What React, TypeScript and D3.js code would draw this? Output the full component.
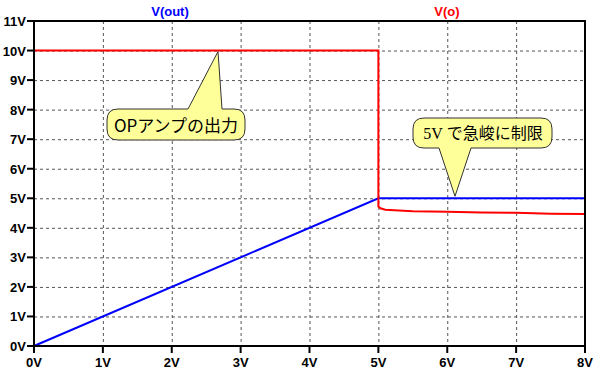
import * as d3 from "d3";

const width = 598;
const height = 371;

const xTicks = [0, 1, 2, 3, 4, 5, 6, 7, 8];
const yTicks = [0, 1, 2, 3, 4, 5, 6, 7, 8, 9, 10, 11];

// V(out): blue
const outX = [0, 5, 8];
const outY = [0, 5, 5];

// V(o): red
const oX = [0, 5, 5, 5.03, 5.1, 5.5, 6, 6.5, 7, 7.5, 8];
const oY = [10, 10, 4.72, 4.66, 4.61, 4.56, 4.54, 4.52, 4.51, 4.48, 4.47];

const seriesNames = ["V(out)", "V(o)"];
const seriesColors = ["#0000ff", "#ff0000"];

const note1 = "OPアンプの出力";
const note2Num = "5V";
const note2Text = "で急峻に制限";

const x = d3.scaleLinear([0, 8], [34, 585]);
const y = d3.scaleLinear([0, 11], [346, 21]);

function calloutPath(
  x0: number, y0: number, x1: number, y1: number, r: number,
  side: "top" | "bottom", b1: number, b2: number, tx: number, ty: number,
) {
  const p = d3.path();
  p.moveTo(x0 + r, y0);
  if (side === "top") {
    p.lineTo(b1, y0);
    p.lineTo(tx, ty);
    p.lineTo(b2, y0);
  }
  p.lineTo(x1 - r, y0);
  p.quadraticCurveTo(x1, y0, x1, y0 + r);
  p.lineTo(x1, y1 - r);
  p.quadraticCurveTo(x1, y1, x1 - r, y1);
  if (side === "bottom") {
    p.lineTo(b2, y1);
    p.lineTo(tx, ty);
    p.lineTo(b1, y1);
  }
  p.lineTo(x0 + r, y1);
  p.quadraticCurveTo(x0, y1, x0, y1 - r);
  p.lineTo(x0, y0 + r);
  p.quadraticCurveTo(x0, y0, x0 + r, y0);
  p.closePath();
  return p.toString();
}

export default function App() {
  const mk = (xs: number[], ys: number[]) =>
    d3
      .line<number>()
      .x((d) => x(d))
      .y((_, i) => y(ys[i]))(xs) as string;

  const font = "'Liberation Sans', Arial, sans-serif";
  const jp = "'Noto Sans CJK JP', sans-serif";

  return (
    <svg
      width={width}
      height={height}
      style={{ position: "absolute", left: 0, top: 0, background: "#fff" }}
    >
      <rect width={width} height={height} fill="#fff" />
      {/* grid */}
      <g stroke="#555" strokeWidth={1} strokeDasharray="3,3">
        {xTicks.slice(1, -1).map((t) => (
          <line key={t} x1={x(t) + 0.5} x2={x(t) + 0.5} y1={y(11)} y2={y(0)} />
        ))}
        {yTicks.slice(1, -1).map((t) => (
          <line key={t} x1={x(0)} x2={x(8)} y1={y(t) + 0.5} y2={y(t) + 0.5} />
        ))}
      </g>
      {/* series */}
      <path d={mk(outX, outY)} fill="none" stroke={seriesColors[0]} strokeWidth={2} />
      <path d={mk(oX, oY)} fill="none" stroke={seriesColors[1]} strokeWidth={2} />
      {/* frame */}
      <rect
        x={x(0)}
        y={y(11)}
        width={x(8) - x(0)}
        height={y(0) - y(11)}
        fill="none"
        stroke="#000"
        strokeWidth={2}
      />
      {/* ticks */}
      <g stroke="#000" strokeWidth={2}>
        {yTicks.map((t) => (
          <line key={t} x1={x(0) - 7} x2={x(0)} y1={y(t)} y2={y(t)} />
        ))}
        {xTicks.map((t) => (
          <line key={t} x1={x(t)} x2={x(t)} y1={y(0)} y2={y(0) + 7} />
        ))}
      </g>
      <g fontFamily={font} fontWeight="bold" fontSize={13} fill="#000">
        {yTicks.map((t) => (
          <text key={t} x={x(0) - 8} y={y(t) + 5} textAnchor="end">
            {t}V
          </text>
        ))}
        {xTicks.map((t) => (
          <text key={t} x={x(t)} y={367} textAnchor="middle">
            {t}V
          </text>
        ))}
      </g>
      {/* headers */}
      <text x={170} y={16} textAnchor="middle" fontFamily={font} fontWeight="bold" fontSize={13} fill={seriesColors[0]}>
        {seriesNames[0]}
      </text>
      <text x={447} y={16} textAnchor="middle" fontFamily={font} fontWeight="bold" fontSize={13} fill={seriesColors[1]}>
        {seriesNames[1]}
      </text>
      {/* callouts */}
      <path
        d={calloutPath(107, 109, 245, 140, 11, "top", 188, 222, 218, y(10) + 1)}
        fill="#ffff99"
        stroke="#333"
        strokeWidth={1}
      />
      <text x={176} y={132} textAnchor="middle" fontFamily={jp} fontSize={17} fill="#000">
        {note1}
      </text>
      <path
        d={calloutPath(413, 118, 552, 148, 11, "bottom", 439, 471, 455, y(5) - 2)}
        fill="#ffff99"
        stroke="#333"
        strokeWidth={1}
      />
      <text x={483} y={139} textAnchor="middle" fontSize={16} fill="#000">
        <tspan fontFamily="'Liberation Serif', serif">{note2Num} </tspan>
        <tspan fontFamily={jp}>{note2Text}</tspan>
      </text>
    </svg>
  );
}
